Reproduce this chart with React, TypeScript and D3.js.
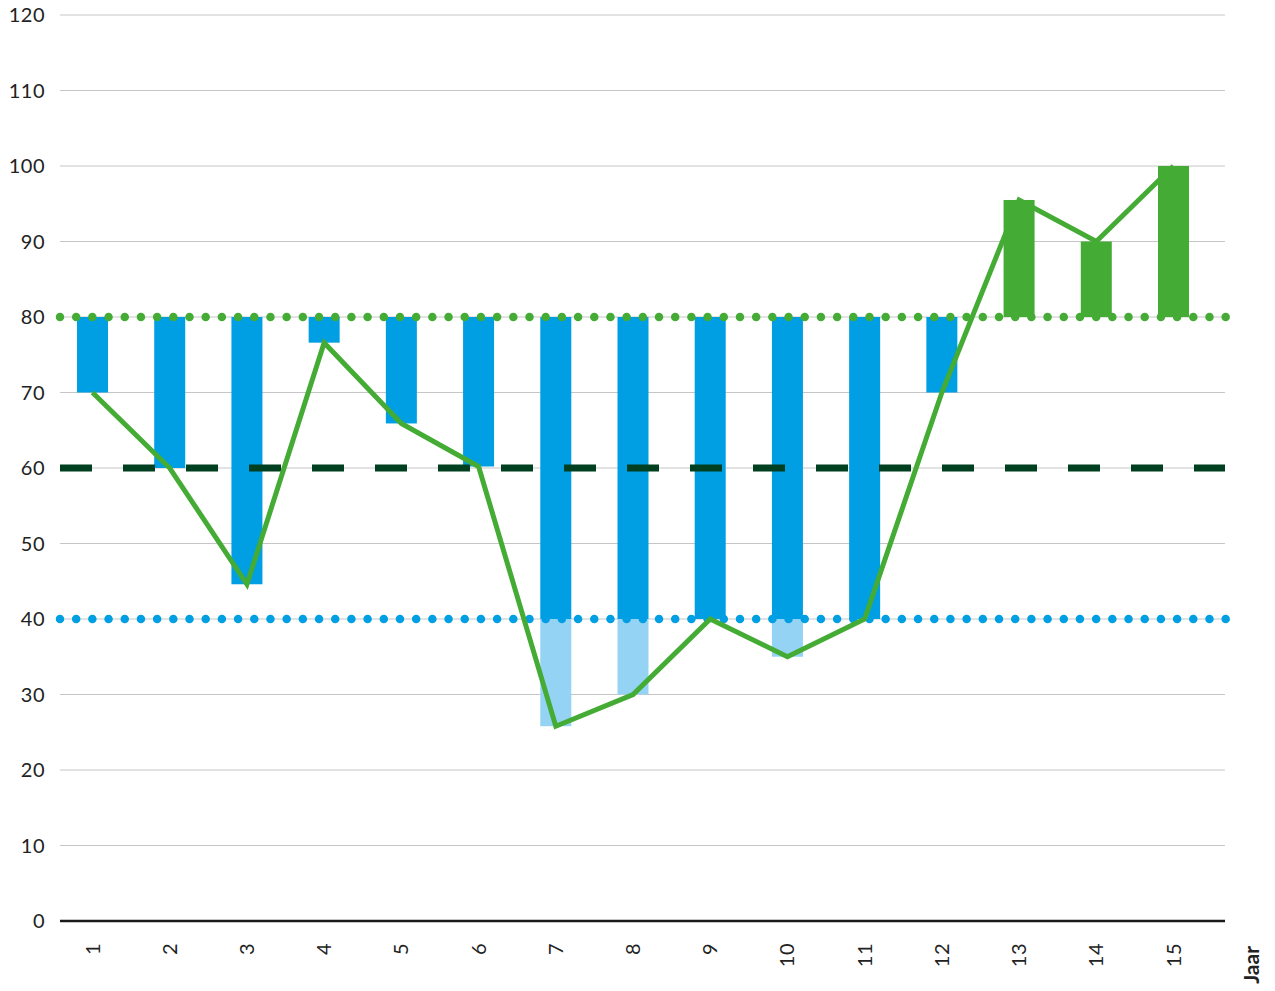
import * as React from 'react'
import { useEffect, useRef } from 'react'
import * as d3 from 'd3'

const years = d3.range(1, 16)
const yearLabels = years.map((d) => String(d))
const lineValues = [70, 60, 44.6, 76.6, 65.9, 60.2, 25.8, 30, 40, 35, 40, 70, 95.5, 90, 100]
const yTicks = [0, 10, 20, 30, 40, 50, 60, 70, 80, 90, 100, 110, 120]
const upperLimit = 80
const middleLimit = 60
const lowerLimit = 40

const W = 1275
const H = 991
const BLUE = '#009fe3'
const LIGHT_BLUE = '#95d3f4'
const GREEN = '#44ac34'
const DARK_GREEN = '#003f1f'
const FONT = 'Lato, sans-serif'

export default function App() {
  const ref = useRef<SVGSVGElement>(null)

  useEffect(() => {
    const svg = d3.select(ref.current)
    svg.selectAll('*').remove()

    const x = d3.scalePoint<string>().domain(yearLabels).range([92.5, 1173.5])
    const y = d3.scaleLinear().domain([0, 120]).range([921, 15])
    const barW = 31
    const left = 60
    const right = 1225

    // grid
    const grid = svg.append('g')
    grid
      .selectAll('line')
      .data(yTicks.filter((d) => d > 0))
      .enter()
      .append('line')
      .attr('x1', left)
      .attr('x2', right)
      .attr('y1', (d) => y(d))
      .attr('y2', (d) => y(d))
      .attr('stroke', '#c6c6c6')
      .attr('stroke-width', 1)

    grid
      .selectAll('text')
      .data(yTicks)
      .enter()
      .append('text')
      .attr('x', 45)
      .attr('y', (d) => y(d))
      .attr('dy', '0.35em')
      .attr('text-anchor', 'end')
      .attr('font-family', FONT)
      .attr('font-size', 20)
      .attr('letter-spacing', 0.5)
      .attr('fill', '#222')
      .text((d) => d)

    // bars
    const bars = svg.append('g')
    years.forEach((yr, i) => {
      const v = lineValues[i]
      const cx = x(String(yr)) as number
      if (v >= upperLimit) {
        bars
          .append('rect')
          .attr('x', cx - barW / 2)
          .attr('y', y(v))
          .attr('width', barW)
          .attr('height', y(upperLimit) - y(v))
          .attr('fill', GREEN)
      } else {
        const low = Math.max(v, lowerLimit)
        bars
          .append('rect')
          .attr('x', cx - barW / 2)
          .attr('y', y(upperLimit))
          .attr('width', barW)
          .attr('height', y(low) - y(upperLimit))
          .attr('fill', BLUE)
        if (v < lowerLimit) {
          bars
            .append('rect')
            .attr('x', cx - barW / 2)
            .attr('y', y(lowerLimit))
            .attr('width', barW)
            .attr('height', y(v) - y(lowerLimit))
            .attr('fill', LIGHT_BLUE)
        }
      }
    })

    // reference lines
    svg
      .append('line')
      .attr('x1', left)
      .attr('x2', right)
      .attr('y1', y(middleLimit))
      .attr('y2', y(middleLimit))
      .attr('stroke', DARK_GREEN)
      .attr('stroke-width', 7)
      .attr('stroke-dasharray', '32 31')

    const dotted = [
      { v: upperLimit, c: GREEN },
      { v: lowerLimit, c: BLUE },
    ]
    dotted.forEach((d) => {
      svg
        .append('line')
        .attr('x1', 60)
        .attr('x2', 1228)
        .attr('y1', y(d.v))
        .attr('y2', y(d.v))
        .attr('stroke', d.c)
        .attr('stroke-width', 8.5)
        .attr('stroke-linecap', 'round')
        .attr('stroke-dasharray', '0 16.19')
    })

    // line series
    const line = d3
      .line<number>()
      .x((d, i) => x(yearLabels[i]) as number)
      .y((d) => y(d))
    svg
      .append('path')
      .attr('d', line(lineValues))
      .attr('fill', 'none')
      .attr('stroke', GREEN)
      .attr('stroke-width', 5)
      .attr('stroke-linejoin', 'miter')

    // x axis
    svg
      .append('line')
      .attr('x1', left)
      .attr('x2', right)
      .attr('y1', y(0))
      .attr('y2', y(0))
      .attr('stroke', '#1a1a1a')
      .attr('stroke-width', 2.5)

    svg
      .append('g')
      .selectAll('text')
      .data(yearLabels)
      .enter()
      .append('text')
      .attr('transform', (d) => `translate(${x(d)},943) rotate(-90)`)
      .attr('dy', '0.35em')
      .attr('text-anchor', 'end')
      .attr('font-family', FONT)
      .attr('font-size', 20)
      .attr('letter-spacing', 0.5)
      .attr('fill', '#222')
      .text((d) => d)

    svg
      .append('text')
      .attr('transform', 'translate(1252,946) rotate(-90)')
      .attr('dy', '0.35em')
      .attr('text-anchor', 'end')
      .attr('font-family', FONT)
      .attr('font-weight', 'bold')
      .attr('font-size', 21)
      .attr('fill', '#222')
      .text('Jaar')
  }, [])

  return (
    <div style={{ position: 'absolute', top: 0, left: 0 }}>
      <svg ref={ref} width={W} height={H} style={{ display: 'block' }} />
    </div>
  )
}
